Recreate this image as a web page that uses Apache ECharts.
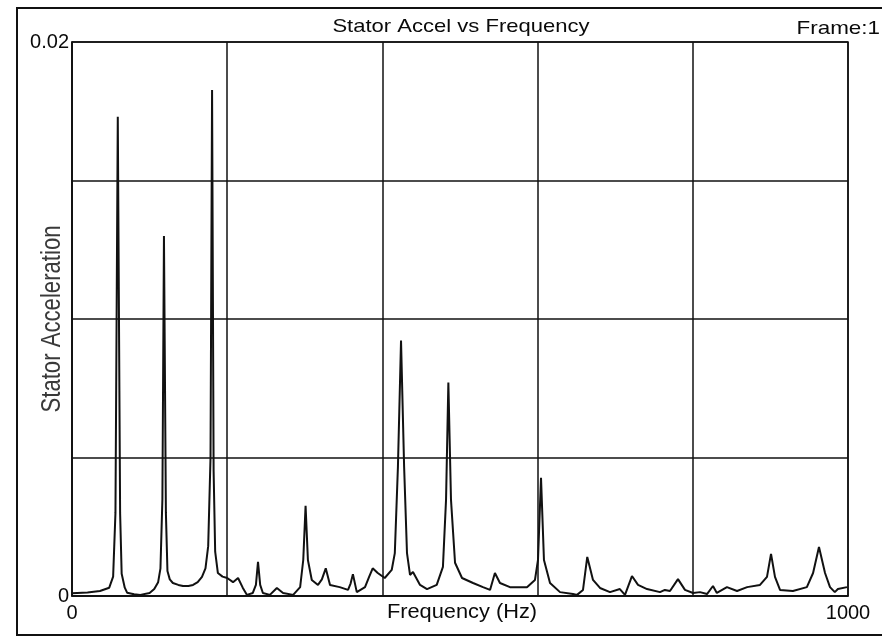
<!DOCTYPE html>
<html>
<head>
<meta charset="utf-8">
<title>Stator Accel vs Frequency</title>
<script src="https://cdn.jsdelivr.net/npm/echarts@6/dist/echarts.min.js"></script>
<style>
  html, body { margin: 0; padding: 0; background: #fff; }
  #chart { width: 882px; height: 637px; }
</style>
</head>
<body>
<div id="chart"></div>
<script>
// frequency samples (Hz)
const freqHz = [
  0, 20, 36, 48, 53, 56, 59, 62, 64, 68, 71, 80, 88,
  100, 106, 111, 114, 116.5, 118.5, 121, 123, 126, 130, 137, 143, 150, 156, 162,
  167.5, 172, 175.5, 178.5, 180.5, 182.5, 184.5, 188, 194,
  200, 207.5, 214, 220, 225.5, 233, 237, 239.7, 242.5, 246, 255, 264, 272, 285, 294, 298,
  301, 304, 309, 317, 322, 327, 332.5, 345, 355.7, 359, 362, 367, 377.6, 383, 387.5, 394,
  403, 412, 416, 420, 424, 428, 431.7, 435.6, 439.4, 448.5, 457.5, 470, 478, 482, 485, 488.4, 493.6,
  502.6, 516.8, 529.6, 538.7, 545, 551.5, 564.4, 586.3, 596.6,
  600.5, 604.4, 608.2, 616, 628.9, 645.6, 650.8, 658.5, 664, 671.4, 680.4, 693.3,
  706, 712.6, 721.6, 729.4, 741, 757.7, 764, 770.6, 780.9, 789.9,
  800.3, 809.3, 818.3, 826, 831, 844, 857, 870, 886.6, 895.6,
  900.8, 905.9, 912.4, 929, 947, 955, 962.6, 970.4, 976.8, 983, 987, 998.7
];
// stator acceleration at each sample
const statorAccel = [
  0.00010, 0.00013, 0.00018, 0.00030, 0.00070, 0.00300, 0.01730, 0.00300, 0.00080, 0.00030, 0.00012, 0.00006, 0.00004,
  0.00011, 0.00025, 0.00050, 0.00100, 0.00350, 0.01300, 0.00300, 0.00090, 0.00060, 0.00047, 0.00040, 0.00036, 0.00036, 0.00040, 0.00050,
  0.00069, 0.00100, 0.00180, 0.00500, 0.01827, 0.00450, 0.00160, 0.00083, 0.00070,
  0.00065, 0.00050, 0.00065, 0.00030, 0.00004, 0.00011, 0.00040, 0.00123, 0.00040, 0.00011, 0.00004, 0.00029, 0.00011, 0.00004, 0.00032, 0.00130,
  0.00326, 0.00130, 0.00058, 0.00040, 0.00060, 0.00100, 0.00040, 0.00032, 0.00022, 0.00045, 0.00079, 0.00014, 0.00032, 0.00070, 0.00100, 0.00083,
  0.00065, 0.00094, 0.00155, 0.00466, 0.00922, 0.00466, 0.00155, 0.00076, 0.00087, 0.00040, 0.00025, 0.00040, 0.00105, 0.00347, 0.00771, 0.00347, 0.00120,
  0.00065, 0.00047, 0.00032, 0.00022, 0.00083, 0.00047, 0.00032, 0.00032, 0.00058,
  0.00130, 0.00427, 0.00130, 0.00047, 0.00014, 0.00007, 0.00004, 0.00022, 0.00141, 0.00058, 0.00029, 0.00014,
  0.00025, 0.00004, 0.00072, 0.00040, 0.00025, 0.00014, 0.00022, 0.00018, 0.00061, 0.00022,
  0.00011, 0.00014, 0.00007, 0.00036, 0.00011, 0.00032, 0.00018, 0.00032, 0.00040, 0.00069,
  0.00152, 0.00069, 0.00022, 0.00018, 0.00032, 0.00083, 0.00177, 0.00083, 0.00032, 0.00014, 0.00025, 0.00032
];
// only the end ticks carry labels
const xTickLabels = { 0: '0', 1000: '1000' };
const yTickLabels = ['0', '0.02'];

const font = '"Liberation Sans", Arial, sans-serif';
const chart = echarts.init(document.getElementById('chart'));

const option = {
  animation: false,
  backgroundColor: '#fff',
  grid: {
    left: 72, right: 34, top: 42, bottom: 41,
    containLabel: false, outerBoundsMode: 'none',
    show: true, borderColor: '#111', borderWidth: 1.5
  },
  graphic: [
    {
      type: 'rect', silent: true,
      shape: { x: 17, y: 8, width: 900, height: 627 },
      style: { fill: 'none', stroke: '#111', lineWidth: 2 }
    },
    {
      type: 'text', x: 461, y: 27, scaleX: 1.16,
      style: {
        text: 'Stator Accel vs Frequency', fontSize: 19, fontFamily: font, fill: '#0a0a0a',
        textAlign: 'center', textVerticalAlign: 'middle', align: 'center', verticalAlign: 'middle'
      }
    },
    {
      type: 'text', x: 880, y: 29, scaleX: 1.18,
      style: {
        text: 'Frame:1', fontSize: 19, fontFamily: font, fill: '#0a0a0a',
        textAlign: 'right', textVerticalAlign: 'middle', align: 'right', verticalAlign: 'middle'
      }
    },
    {
      // x axis title
      type: 'text', x: 462, y: 612, scaleX: 1.09,
      style: {
        text: 'Frequency (Hz)', fontSize: 20, fontFamily: font, fill: '#0a0a0a',
        textAlign: 'center', textVerticalAlign: 'middle', align: 'center', verticalAlign: 'middle'
      }
    },
    {
      // y axis title, narrow lettering
      type: 'text', x: 53, y: 319, rotation: Math.PI / 2, scaleX: 0.82,
      style: {
        text: 'Stator Acceleration', fontSize: 27, fontFamily: font, fill: '#3a3a3a',
        textAlign: 'center', textVerticalAlign: 'middle', align: 'center', verticalAlign: 'middle'
      }
    }
  ],
  xAxis: {
    type: 'value', min: 0, max: 1000, interval: 200,
    axisLine: { show: true, lineStyle: { color: '#111', width: 1.5 } },
    axisTick: { show: false },
    splitLine: { show: true, lineStyle: { color: '#111', width: 1.5 } },
    axisLabel: {
      margin: 7, fontSize: 20, fontFamily: font, color: '#0a0a0a',
      showMinLabel: true, showMaxLabel: true,
      formatter: v => xTickLabels[v] || ''
    }
  },
  yAxis: {
    type: 'value', min: 0, max: 0.02, interval: 0.005,
    axisLine: { show: true, lineStyle: { color: '#111', width: 1.5 } },
    axisTick: { show: false },
    splitLine: { show: true, lineStyle: { color: '#111', width: 1.5 } },
    axisLabel: {
      margin: 3, fontSize: 20, fontFamily: font, color: '#0a0a0a',
      showMinLabel: true, showMaxLabel: true,
      formatter: v => v === 0 ? yTickLabels[0] : (Math.abs(v - 0.02) < 1e-9 ? yTickLabels[1] : '')
    }
  },
  series: [
    {
      type: 'line',
      showSymbol: false,
      data: freqHz.map((f, i) => [f, statorAccel[i]]),
      lineStyle: { color: '#111', width: 2 }
    }
  ]
};
chart.setOption(option);
</script>
</body>
</html>
